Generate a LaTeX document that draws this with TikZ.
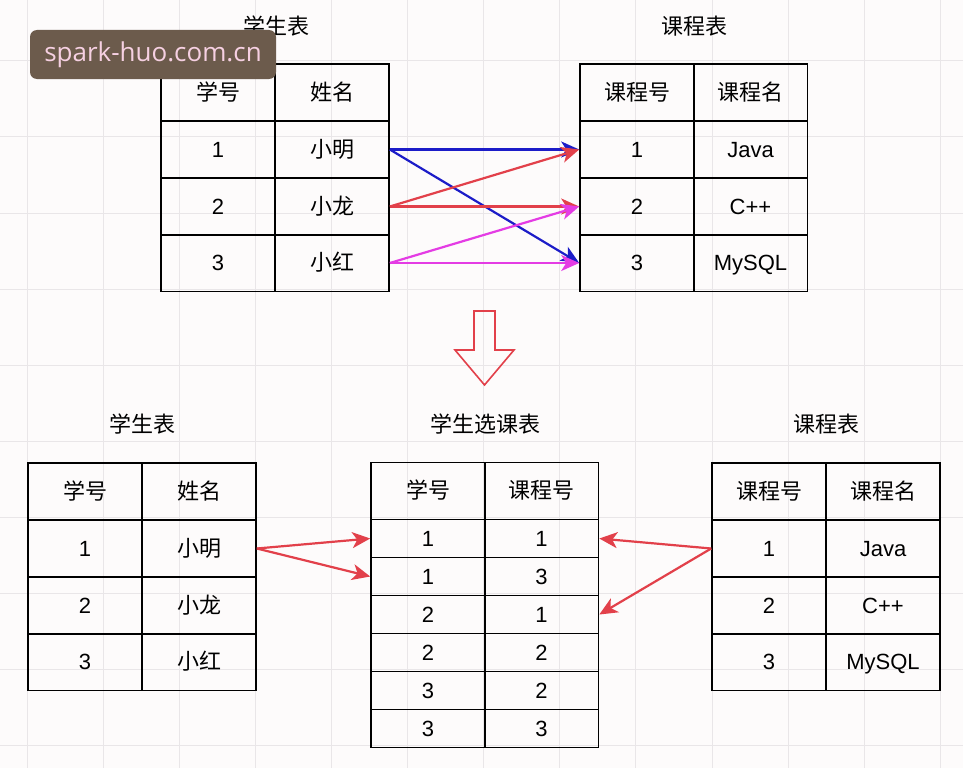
\documentclass[tikz,border=0pt]{standalone}
\usepackage{fontspec}
\setmainfont{Liberation Sans}
\newfontfamily\cjk{Noto Sans CJK SC}
\newfontfamily\markfont{Open Sans}
\usetikzlibrary{arrows.meta}

\definecolor{bgpaper}{HTML}{FDFBFB}
\definecolor{gridgray}{HTML}{E9E6E8}
\definecolor{linkblue}{HTML}{1C1CC8}
\definecolor{linkred}{HTML}{E2404A}
\definecolor{linkpink}{HTML}{E43CE4}
\definecolor{markbox}{HTML}{6C5B4C}
\definecolor{marktext}{HTML}{F6D0E2}

\tikzset{
  cell/.style={draw, line width=1.6pt, minimum width=114pt, minimum height=57pt,
               inner sep=0pt, text height=15pt, text depth=0pt,
               font=\fontsize{22}{26}\selectfont},
  slim/.style={cell, minimum height=38pt},
  title/.style={font=\cjk\fontsize{22}{26}\selectfont},
  link/.style={line width=2.2pt, -{Stealth[length=18pt,width=16pt,inset=5pt]}},
  gridline/.style={gridgray, line width=0.8pt},
}

\begin{document}
\begin{tikzpicture}%
  [x=1pt, y=-1pt]
\useasboundingbox (0,0) rectangle (963,768);
\fill[bgpaper] (0,0) rectangle (963,768);
\foreach \gx in {0,...,12} \draw[gridline] ({27+76.1*\gx},0) -- ++(0,768);
\foreach \gy in {0,...,10} \draw[gridline] (0,{-15.4+76.1*\gy}) -- ++(963,0);

% top: student table and course table
\node[title] (ts) at (276,26) {学生表};
\node[title] (tc) at (694,26) {课程表};
\node[cell] (s0a) at (218,92.5) {\cjk 学号};
\node[cell] (s0b) at (332,92.5) {\cjk 姓名};
\node[cell] (s1a) at (218,149.5) {1};
\node[cell] (s1b) at (332,149.5) {\cjk 小明};
\node[cell] (s2a) at (218,206.5) {2};
\node[cell] (s2b) at (332,206.5) {\cjk 小龙};
\node[cell] (s3a) at (218,263) {3};
\node[cell] (s3b) at (332,263) {\cjk 小红};
\node[cell] (c0a) at (637,92.5) {\cjk 课程号};
\node[cell] (c0b) at (750.5,92.5) {\cjk 课程名};
\node[cell] (c1a) at (637,149.5) {1};
\node[cell] (c1b) at (750.5,149.5) {Java};
\node[cell] (c2a) at (637,206.5) {2};
\node[cell] (c2b) at (750.5,206.5) {C++};
\node[cell] (c3a) at (637,263) {3};
\node[cell] (c3b) at (750.5,263) {MySQL};

\draw[link, linkblue] (s1b.east) -- (c1a.west);
\draw[link, linkblue] (s1b.east) -- (c3a.west);
\draw[link, linkred]  (s2b.east) -- (c1a.west);
\draw[link, linkred]  (s2b.east) -- (c2a.west);
\draw[link, linkpink] (s3b.east) -- (c2a.west);
\draw[link, linkpink] (s3b.east) -- (c3a.west);

% hollow down arrow
\draw[linkred, line width=1.6pt, line join=miter]
  (474,311) -- (495,311) -- (495,350) -- (514,350) -- (484.5,385)
  -- (455,350) -- (474,350) -- cycle;

% bottom: student table, selection table, course table
\node[title] (bts) at (142,424) {学生表};
\node[title] (btx) at (485,424) {学生选课表};
\node[title] (btc) at (826,424) {课程表};
\node[cell] (bs0a) at (85,491.5) {\cjk 学号};
\node[cell] (bs0b) at (199,491.5) {\cjk 姓名};
\node[cell] (bs1a) at (85,548.5) {1};
\node[cell] (bs1b) at (199,548.5) {\cjk 小明};
\node[cell] (bs2a) at (85,605.5) {2};
\node[cell] (bs2b) at (199,605.5) {\cjk 小龙};
\node[cell] (bs3a) at (85,662) {3};
\node[cell] (bs3b) at (199,662) {\cjk 小红};

\node[cell] (x0a) at (428,491) {\cjk 学号};
\node[cell] (x0b) at (541.5,491) {\cjk 课程号};
\foreach \r/\sid/\cid in {1/1/1, 2/1/3, 3/2/1, 4/2/2, 5/3/2, 6/3/3} {
  \node[slim] (x\r a) at (428,{500.5+38*\r}) {\sid};
  \node[slim] (x\r b) at (541.5,{500.5+38*\r}) {\cid};
}

\node[cell] (bc0a) at (769,491.5) {\cjk 课程号};
\node[cell] (bc0b) at (883,491.5) {\cjk 课程名};
\node[cell] (bc1a) at (769,548.5) {1};
\node[cell] (bc1b) at (883,548.5) {Java};
\node[cell] (bc2a) at (769,605.5) {2};
\node[cell] (bc2b) at (883,605.5) {C++};
\node[cell] (bc3a) at (769,662) {3};
\node[cell] (bc3b) at (883,662) {MySQL};

\draw[link, linkred] (bs1b.east) -- (x1a.west);
\draw[link, linkred] (bs1b.east) -- (x2a.west);
\draw[link, linkred] (bc1a.west) -- (x1b.east);
\draw[link, linkred] (bc1a.west) -- (x3b.east);

% watermark
\node[fill=markbox, rounded corners=7pt, minimum width=246pt, minimum height=49pt,
      text=marktext, font=\markfont\fontsize{26}{30}\selectfont, inner sep=0pt]
  (mark) at (153,54.5) {spark-huo.com.cn};
\end{tikzpicture}
\end{document}
